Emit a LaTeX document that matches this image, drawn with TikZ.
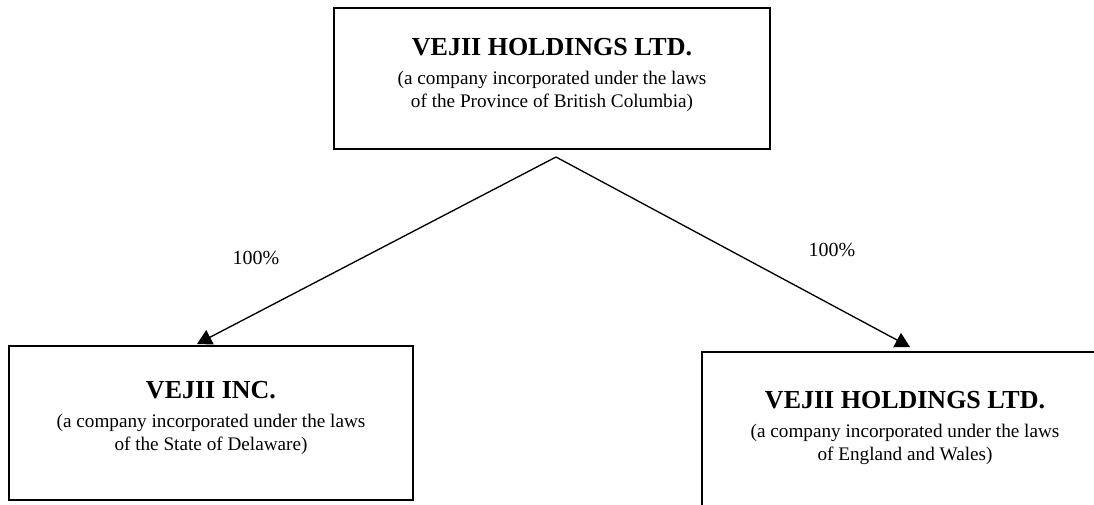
\documentclass[tikz,border=0pt]{standalone}
\usepackage{fontspec}
\setmainfont{Liberation Serif}
\usetikzlibrary{arrows.meta}
\newcommand{\ttlfont}{\fontsize{19.5}{23}\selectfont\bfseries}
\begin{document}
\begin{tikzpicture}[x=0.75pt,y=-0.75pt,
  entity/.style={draw=black,line width=1.5pt,inner sep=0pt},
  entitytext/.style={inner sep=0pt,align=center,anchor=north,
    font=\fontsize{14.4}{17.25}\selectfont},
  owns/.style={line width=1pt,-{Triangle[length=11pt,width=12pt]}},
  pct/.style={font=\fontsize{15}{18}\selectfont,inner sep=0pt}]
\useasboundingbox (0,0) rectangle (1094,504);
\clip (0,0) rectangle (1094,504);
\node[entity,minimum width=327pt,minimum height=105.75pt] (parent) at (552,78.5) {};
\node[entitytext] (parenttext) at (552,38.5)
  {{\ttlfont VEJII HOLDINGS LTD.}\\[4.5pt](a company incorporated under the laws\\of the Province of British Columbia)};
\node[entity,minimum width=303pt,minimum height=115.5pt] (inc) at (211,423) {};
\node[entitytext] (inctext) at (211,381)
  {{\ttlfont VEJII INC.}\\[4.5pt](a company incorporated under the laws\\of the State of Delaware)};
\node[entity,minimum width=304.5pt,minimum height=120pt] (uk) at (905,432) {};
\node[entitytext] (uktext) at (905,391)
  {{\ttlfont VEJII HOLDINGS LTD.}\\[4.5pt](a company incorporated under the laws\\of England and Wales)};
\coordinate (apex) at (556,157);
\coordinate (ltip) at (197,344);
\coordinate (rtip) at (910,347);
\draw[owns] (apex) -- (ltip);
\draw[owns] (apex) -- (rtip);
\node[pct] (pl) at (256,258) {100\%};
\node[pct] (pr) at (832,250) {100\%};
\end{tikzpicture}
\end{document}
